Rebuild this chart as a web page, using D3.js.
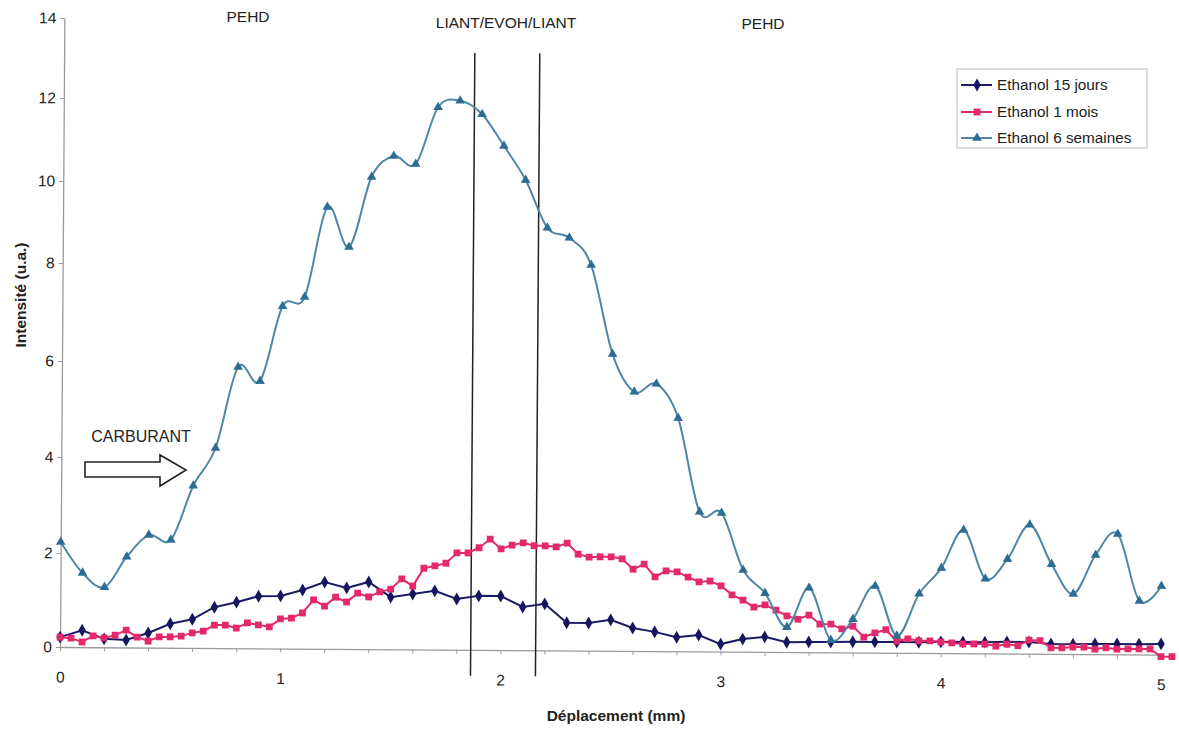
<!DOCTYPE html>
<html><head><meta charset="utf-8">
<script src="https://cdn.jsdelivr.net/npm/d3@7"></script>
<style>
body{margin:0;background:#fff}
text{font-family:Arial,"Liberation Sans",sans-serif;fill:#222}
</style>
</head><body>
<svg id="c" width="1179" height="729"></svg>
<script>
// ---------- data ----------
const seriesNames = ["Ethanol 15 jours", "Ethanol 1 mois", "Ethanol 6 semaines"];
const step15 = 0.1, stepMois = 0.05, step6 = 0.1;   // sampling step (mm)
const jours15 = [0.21,0.36,0.18,0.16,0.31,0.51,0.61,0.87,0.98,1.11,1.12,
  1.25,1.42,1.30,1.43,1.11,1.18,1.25,1.08,1.15,1.15,
  0.92,0.99,0.59,0.59,0.66,0.49,0.41,0.30,0.35,0.16,
  0.27,0.32,0.21,0.22,0.22,0.23,0.23,0.23,0.23,0.24,
  0.24,0.24,0.25,0.25,0.21,0.21,0.22,0.22,0.22,0.23];
const mois1 = [0.21,0.19,0.11,0.24,0.20,0.26,0.37,0.22,0.14,0.23,
  0.23,0.25,0.32,0.36,0.49,0.49,0.43,0.54,0.50,0.46,
  0.63,0.65,0.76,1.04,0.91,1.10,1.00,1.19,1.11,1.22,
  1.28,1.50,1.35,1.73,1.78,1.84,2.06,2.06,2.17,2.35,
  2.15,2.23,2.28,2.22,2.22,2.20,2.28,2.05,1.99,2.00,
  2.00,1.96,1.74,1.85,1.58,1.71,1.69,1.58,1.48,1.50,
  1.40,1.21,1.10,0.95,1.00,0.89,0.77,0.70,0.79,0.60,
  0.60,0.50,0.56,0.33,0.42,0.49,0.25,0.30,0.26,0.26,
  0.24,0.22,0.20,0.20,0.20,0.16,0.20,0.17,0.29,0.28,
  0.13,0.13,0.15,0.15,0.11,0.14,0.11,0.12,0.12,0.12,
  -0.04,-0.04];
const semaines6 = [2.23,1.58,1.28,1.93,2.39,2.29,3.42,4.21,5.90,5.61,
  7.15,7.34,9.41,8.44,10.15,10.66,10.47,11.84,12.00,11.68,
  10.92,10.10,8.94,8.70,8.04,6.22,5.44,5.61,4.90,2.95,
  2.93,1.74,1.25,0.53,1.37,0.26,0.71,1.42,0.36,1.26,
  1.81,2.61,1.59,2.01,2.73,1.91,1.28,2.11,2.55,1.14,1.46];
const xTicksMajor = [0, 1, 2, 3, 4, 5];
const xTickStep = 0.2;
const yTicks = [0, 2, 4, 6, 8, 10, 12, 14];
const layerBounds = [1.865, 2.16];          // LIANT/EVOH/LIANT boundaries (mm)
const layerBoundSpan = [-0.55, 13.2];
const zoneLabels = ["PEHD", "LIANT/EVOH/LIANT", "PEHD"];
const arrowLabel = "CARBURANT";
const xTitle = "Déplacement (mm)";
const yTitle = "Intensité (u.a.)";

// ---------- styles ----------
const colors = ["#1a1a66", "#e4286c", "#4f87a6"];
const markerColors = ["#16165e", "#e4286c", "#2e6d92"];
const symbols = [d3.symbolDiamond, d3.symbolSquare, d3.symbolTriangle];
const symSizes = [48, 46, 40];

const svg = d3.select("#c");
const x = d3.scaleLinear().domain([0, 5]).range([60, 1161]);
const y = d3.scaleLinear().domain(yTicks).range([647, 553, 457, 361, 263, 181, 98, 18]);

// plot group (slightly tilted like the scanned original)
const g = svg.append("g").attr("transform", "rotate(0.4,60,647)");

// x axis
const minorTicks = d3.range(0, 5 + 1e-9, xTickStep);
const xa = g.append("g").attr("transform", `translate(0,${y(0)})`)
  .call(d3.axisBottom(x).tickValues(minorTicks).tickSize(4).tickSizeOuter(0)
    .tickFormat(d => xTicksMajor.some(t => Math.abs(t - d) < 1e-6) ? d3.format("d")(Math.round(d)) : ""));
xa.select(".domain").attr("stroke", "#9a9a9a").attr("stroke-width", 1.3);
xa.selectAll(".tick line").attr("stroke", "#9a9a9a");
xa.selectAll(".tick text").attr("y", 30).attr("dy", "0.35em")
  .style("font-size", "15.5px").style("font-family", "Arial,'Liberation Sans',sans-serif").attr("fill", "#333");

// y axis
const ya = g.append("g").attr("transform", `translate(${x(0)},0)`)
  .call(d3.axisLeft(y).tickValues(yTicks).tickSize(4).tickSizeOuter(0).tickFormat(d3.format("d")));
ya.select(".domain").attr("stroke", "#9a9a9a").attr("stroke-width", 1.3);
ya.selectAll(".tick line").attr("stroke", "#9a9a9a");
ya.selectAll(".tick text").attr("x", -8)
  .style("font-size", "15.5px").style("font-family", "Arial,'Liberation Sans',sans-serif").attr("fill", "#333");

// layer boundaries
g.selectAll("line.bound").data(layerBounds).enter().append("line")
  .attr("x1", d => x(d)).attr("x2", d => x(d))
  .attr("y1", y(layerBoundSpan[0])).attr("y2", y(layerBoundSpan[1]))
  .attr("stroke", "#222").attr("stroke-width", 1.5);

// series
const series = [
  {vals: jours15, step: step15, curve: d3.curveLinear},
  {vals: mois1, step: stepMois, curve: d3.curveLinear},
  {vals: semaines6, step: step6, curve: d3.curveCatmullRom.alpha(0)}
];
series.forEach((s, k) => {
  const pts = s.vals.map((v, i) => [i * s.step, v]);
  g.append("path").datum(pts)
    .attr("fill", "none").attr("stroke", colors[k]).attr("stroke-width", 2)
    .attr("d", d3.line().x(d => x(d[0])).y(d => y(d[1])).curve(s.curve));
  g.append("g").selectAll("path").data(pts).enter().append("path")
    .attr("transform", d => `translate(${x(d[0])},${y(d[1])})`)
    .attr("d", d3.symbol().type(symbols[k]).size(symSizes[k]))
    .attr("fill", markerColors[k]);
});

// zone labels
const zonePos = [[248, 17], [506, 23], [763, 24]];
svg.selectAll("text.zone").data(zoneLabels).enter().append("text")
  .attr("x", (d, i) => zonePos[i][0]).attr("y", (d, i) => zonePos[i][1]).attr("dy", "0.35em")
  .attr("text-anchor", "middle").style("font-size", "15.5px").text(d => d);

// carburant arrow
svg.append("text").attr("x", 141).attr("y", 436).attr("dy", "0.35em")
  .attr("text-anchor", "middle").style("font-size", "16px").text(arrowLabel);
svg.append("path")
  .attr("d", "M85,462 L160,462 L160,455 L186,470 L160,486 L160,477 L85,477 Z")
  .attr("fill", "#fff").attr("stroke", "#222").attr("stroke-width", 1.6);

// axis titles
svg.append("text").attr("x", 616).attr("y", 716).attr("dy", "0.35em")
  .attr("text-anchor", "middle").style("font-size", "15.5px").style("font-weight", "bold").text(xTitle);
svg.append("text").attr("transform", "translate(21,295) rotate(-90)").attr("dy", "0.35em")
  .attr("text-anchor", "middle").style("font-size", "15.5px").style("font-weight", "bold").text(yTitle);

// legend
const lg = svg.append("g");
lg.append("rect").attr("x", 957).attr("y", 69).attr("width", 190).attr("height", 79)
  .attr("fill", "#fff").attr("stroke", "#bbb").attr("stroke-width", 1);
const rowsY = [85, 112, 138];
seriesNames.forEach((n, k) => {
  lg.append("line").attr("x1", 961).attr("x2", 992).attr("y1", rowsY[k]).attr("y2", rowsY[k])
    .attr("stroke", colors[k]).attr("stroke-width", 2);
  lg.append("path").attr("transform", `translate(977,${rowsY[k]})`)
    .attr("d", d3.symbol().type(symbols[k]).size(symSizes[k])).attr("fill", markerColors[k]);
  lg.append("text").attr("x", 997).attr("y", rowsY[k]).attr("dy", "0.35em")
    .style("font-size", "15.3px").text(n);
});
</script>
</body></html>
